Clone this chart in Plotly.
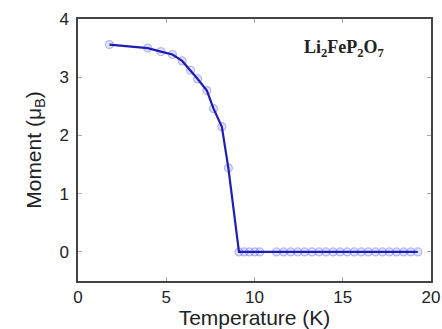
import plotly.graph_objects as go

temperature = [1.78, 3.95, 4.7, 5.35, 5.9, 6.38, 6.78, 7.3, 7.68, 8.15, 8.52, 9.12,
               9.42, 9.72, 10.02, 10.3,
               11.25, 11.65, 12.05, 12.45, 12.85, 13.25, 13.65, 14.05, 14.45, 14.85,
               15.25, 15.65, 16.05, 16.45, 16.85, 17.25, 17.65, 18.05, 18.45, 18.85, 19.25]
moment = [3.56, 3.5, 3.44, 3.39, 3.28, 3.12, 2.97, 2.77, 2.46, 2.15, 1.44, 0.0,
          0.0, 0.0, 0.0, 0.0,
          0.0, 0.0, 0.0, 0.0, 0.0, 0.0, 0.0, 0.0, 0.0, 0.0,
          0.0, 0.0, 0.0, 0.0, 0.0, 0.0, 0.0, 0.0, 0.0, 0.0, 0.0]

fig = go.Figure()
fig.add_trace(go.Scatter(
    x=temperature, y=moment, mode="markers",
    marker=dict(symbol="circle", size=8, color="rgba(150,150,255,0.25)",
                line=dict(width=1.2, color="rgba(120,125,240,0.5)")),
    showlegend=False))
fig.add_trace(go.Scatter(
    x=temperature, y=moment, mode="lines",
    line=dict(color="#1e1eb4", width=2.2),
    showlegend=False))

axis_common = dict(showline=True, linecolor="#444444", linewidth=1.5, mirror="ticks",
                   ticks="inside", ticklen=4, tickcolor="#aaaaaa", showgrid=False,
                   zeroline=False, automargin=False,
                   tickfont=dict(family="Liberation Sans, Arial", size=17, color="#222222"))

fig.update_layout(
    width=442, height=329,
    margin=dict(l=78, r=11, t=19, b=48),
    paper_bgcolor="white", plot_bgcolor="white",
    xaxis=dict(range=[0, 20], tickvals=[0, 5, 10, 15, 20], ticklabelstandoff=0,
               title=dict(text="Temperature (K)", standoff=0,
                          font=dict(family="Liberation Sans, Arial", size=21, color="#222222")),
               **axis_common),
    yaxis=dict(range=[-0.5, 4], tickvals=[0, 1, 2, 3, 4], ticklabelstandoff=4,
               title=dict(text="Moment (μ<sub>B</sub>)", standoff=12,
                          font=dict(family="Liberation Sans, Arial", size=21, color="#222222")),
               **axis_common),
    annotations=[dict(x=0.754, y=0.889, xref="paper", yref="paper",
                      text="<b>Li<sub>2</sub>FeP<sub>2</sub>O<sub>7</sub></b>",
                      showarrow=False, xanchor="center", yanchor="middle",
                      font=dict(family="Liberation Serif, DejaVu Serif", size=18, color="#222222"))],
)

fig.write_html("out.html")
